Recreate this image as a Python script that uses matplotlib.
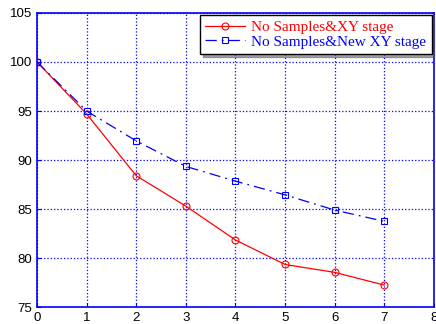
import numpy as np
import matplotlib
matplotlib.use('Agg')
import matplotlib.pyplot as plt

x = [0, 1, 2, 3, 4, 5, 6, 7]
xy_stage = [100, 94.7, 88.4, 85.3, 81.85, 79.35, 78.55, 77.25]
new_xy_stage = [100, 95.0, 91.95, 89.35, 87.85, 86.45, 84.9, 83.75]
labels = ['No Samples&XY stage', 'No Samples&New XY stage']

fig = plt.figure(figsize=(4.36, 3.24), dpi=100)
ax = fig.add_axes([0.085, 0.052, 0.91, 0.908])

ax.plot(x, xy_stage, '-o', color='#ff0000', lw=0.9, ms=5, mfc='none', mew=0.8, label=labels[0])
ax.plot(x, new_xy_stage, '-.s', color='#0000ff', lw=0.9, ms=5, mfc='none', mew=0.8,
        dashes=(9, 4, 1.5, 4), label=labels[1])

ax.set_xlim(0, 8)
ax.set_ylim(75, 105)
ax.set_xticks(range(0, 9))
ax.set_yticks(range(75, 106, 5))
ax.grid(True, color='#0000ff', linestyle=':', lw=0.9)
for s in ax.spines.values():
    s.set_color('#0000ff')
    s.set_linewidth(1.2)
ax.tick_params(direction='in', colors='#0000ff', labelcolor='black', labelsize=9.5, length=3)
for t in ax.get_xticklabels() + ax.get_yticklabels():
    t.set_fontfamily('Liberation Sans')

leg = ax.legend(loc='upper right', prop={'family': 'Liberation Serif', 'size': 11},
                frameon=True, fancybox=False, shadow=True, edgecolor='black',
                borderpad=0.35, handlelength=2.6, labelspacing=0.05, borderaxespad=0.15,
                handletextpad=0.4)
leg.get_frame().set_linewidth(1.0)
for txt, c in zip(leg.get_texts(), ['#ff0000', '#0000ff']):
    txt.set_color(c)

fig.savefig('out.png', dpi=100)
